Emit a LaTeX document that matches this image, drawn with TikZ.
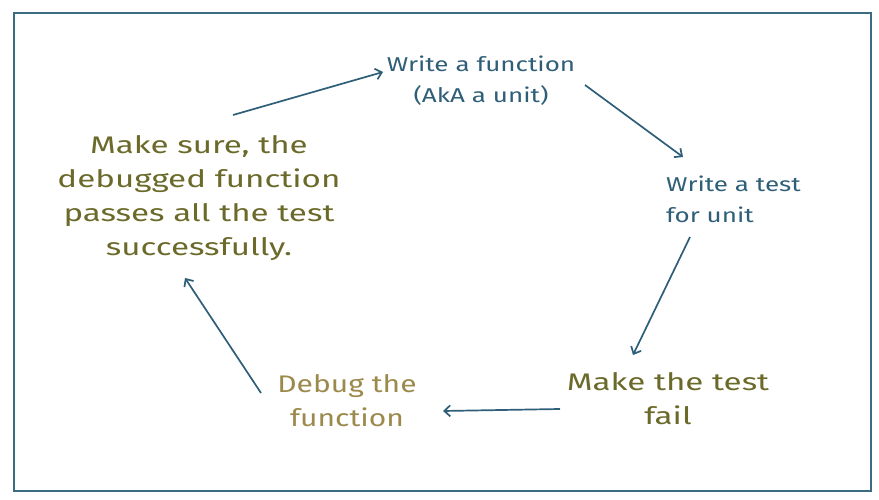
\documentclass[tikz,border=0pt]{standalone}
\usepackage{fontspec}
\setmainfont{Fira Sans}
\newfontfamily\bluefont[FakeStretch=1.3]{Fira Sans}
\newfontfamily\olivefont[FakeStretch=1.38]{Fira Sans}
\newfontfamily\tanfont[FakeStretch=1.25]{Fira Sans}
\usetikzlibrary{arrows.meta}
\definecolor{cblue}{HTML}{2F5F78}
\definecolor{colive}{HTML}{6B6A2A}
\definecolor{ctan}{HTML}{9C8A4C}
\definecolor{cframe}{HTML}{3B6C80}
\tikzset{
  lbl/.style={align=center, inner sep=1pt},
  bluetxt/.style={lbl, text=cblue, font=\bluefont\fontsize{20}{31}\selectfont},
  olivetxt/.style={lbl, text=colive, font=\olivefont\fontsize{24}{34}\selectfont},
  tantxt/.style={lbl, text=ctan, font=\tanfont\fontsize{24}{34}\selectfont},
  conn/.style={draw=cblue, line width=1.7pt, -{Straight Barb[length=6pt,width=11pt]}},
}
\begin{document}
\begin{tikzpicture}[x=1pt,y=-1pt]
\useasboundingbox (0,0) rectangle (879,500);
\fill[white] (0,0) rectangle (879,500);
\draw[cframe, line width=1.8pt] (14,13) rectangle (871,491);
\node[bluetxt] (wf) at (481,81) {Write a function\\(AkA a unit)};
\node[bluetxt, align=left, anchor=west] (wt) at (665,199) {Write a test\\for unit};
\node[olivetxt] (mf) at (668,399) {Make the test\\fail};
\node[tantxt] (db) at (347,401) {Debug the\\function};
\node[olivetxt] (ms) at (199,198) {Make sure, the\\debugged function\\passes all the test\\successfully.};
\coordinate (a1s) at (233,115); \coordinate (a1e) at (383,72);
\coordinate (a2s) at (585,85); \coordinate (a2e) at (683,157);
\coordinate (a3s) at (690,237); \coordinate (a3e) at (633,355);
\coordinate (a4s) at (560,409); \coordinate (a4e) at (443,411);
\coordinate (a5s) at (261,393); \coordinate (a5e) at (185,278);
\draw[conn] (a1s) -- (a1e);
\draw[conn] (a2s) -- (a2e);
\draw[conn] (a3s) -- (a3e);
\draw[conn] (a4s) -- (a4e);
\draw[conn] (a5s) -- (a5e);
\end{tikzpicture}
\end{document}
